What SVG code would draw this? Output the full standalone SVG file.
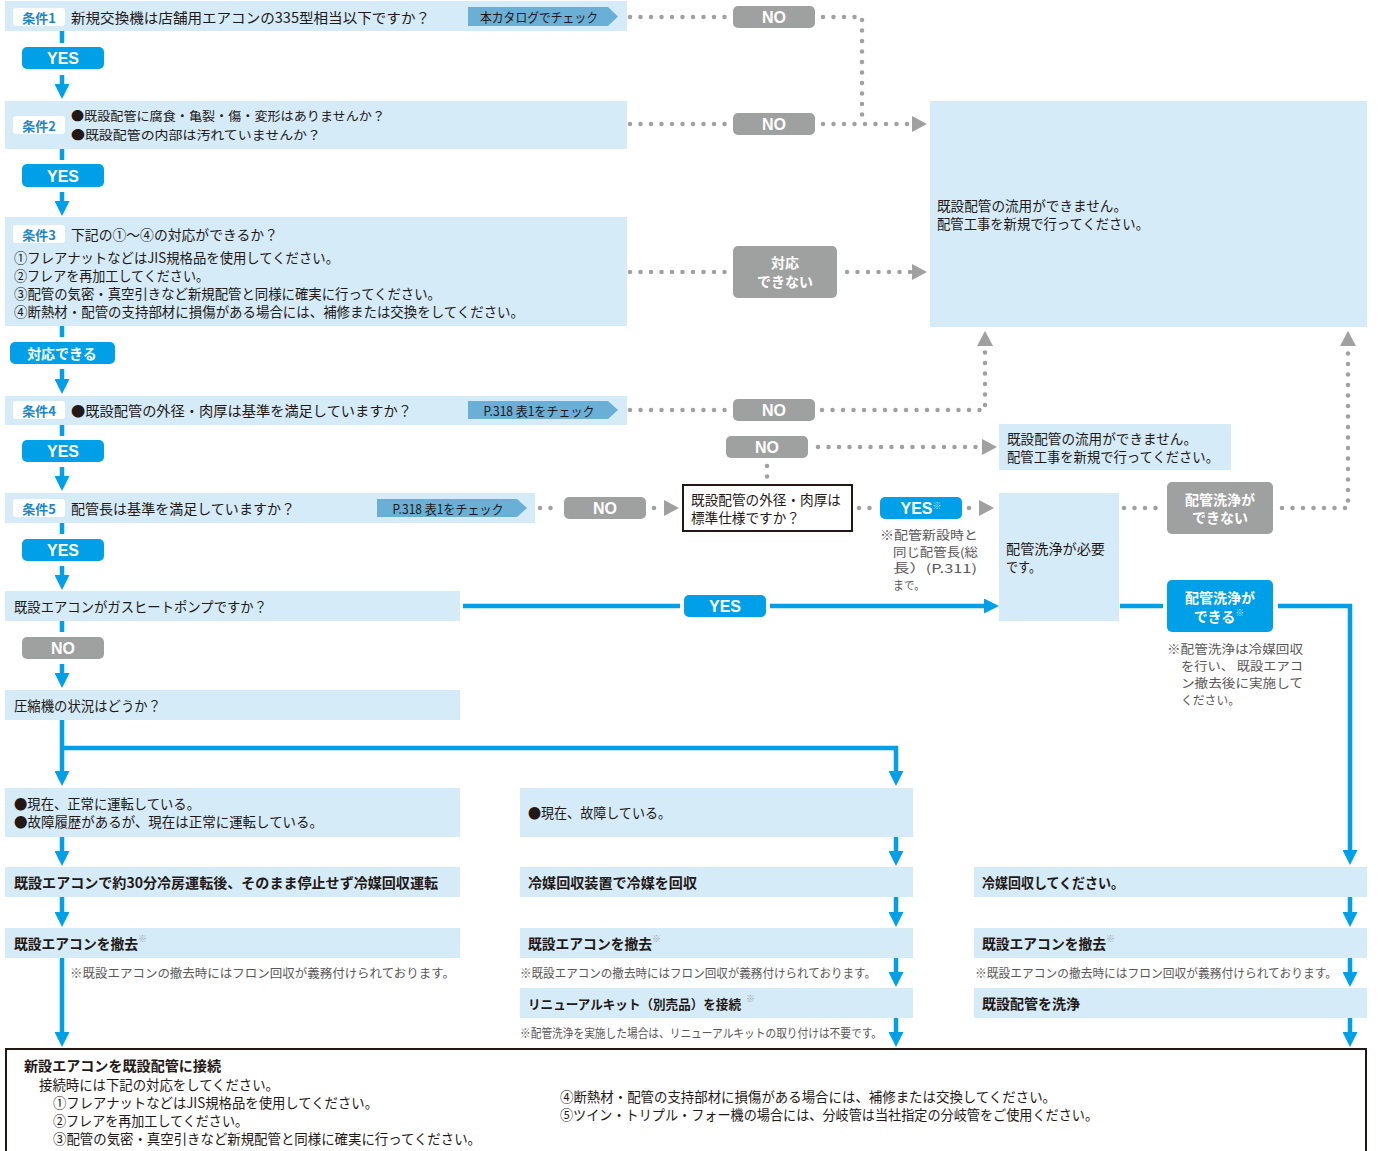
<svg xmlns="http://www.w3.org/2000/svg" width="1381" height="1151" viewBox="0 0 1381 1151">
<style>
.bg{fill:#fff}
.box{fill:#d5ebf8}
.t{font-family:"Noto Sans CJK JP","Noto Sans",sans-serif;font-size:14px;fill:#231815;dominant-baseline:central}
.s{font-size:12.5px}
.k{font-size:12.8px}
.b{font-weight:bold}
.n{font-family:"Noto Sans CJK JP",sans-serif;font-size:12px;fill:#595757;dominant-baseline:central}
.sup{font-family:"Noto Sans CJK JP",sans-serif;font-size:9px;font-weight:normal;fill:#9fa0a0}
.supw{font-family:"Noto Sans CJK JP",sans-serif;font-size:9px;font-weight:normal;fill:#bfe6fa}
.yes{fill:#00a0e9}
.no{fill:#9fa0a0}
.lbl{font-family:"Liberation Sans",Arial,sans-serif;font-weight:bold;font-size:16px;fill:#fff;text-anchor:middle;dominant-baseline:central}
.jl{font-family:"Noto Sans CJK JP",sans-serif;font-weight:bold;font-size:14px;fill:#fff;text-anchor:middle;dominant-baseline:central}
.tag{fill:#fff}
.tagt{font-family:"Noto Sans CJK JP",sans-serif;font-weight:bold;font-size:13px;fill:#1d86c8;text-anchor:middle;dominant-baseline:central}
.chk{fill:#6aafd6}
.chkt{font-family:"Noto Sans CJK JP",sans-serif;font-size:13px;fill:#231815;text-anchor:middle;dominant-baseline:central}
.dot{fill:none;stroke:#a0a0a0;stroke-width:4.5;stroke-linecap:round;stroke-dasharray:0 10.5}
.bl{fill:none;stroke:#00a0e9;stroke-width:4.5}
</style>
<defs>
<marker id="ab" markerUnits="userSpaceOnUse" viewBox="0 0 15 15" markerWidth="15" markerHeight="15" refX="0" refY="7.5" orient="auto"><path d="M0,0 L15,7.5 L0,15 Z" fill="#00a0e9"/></marker>
<marker id="ag" markerUnits="userSpaceOnUse" viewBox="0 0 15 16" markerWidth="15" markerHeight="16" refX="0" refY="8" orient="auto"><path d="M0,0 L15,8 L0,16 Z" fill="#a0a0a0"/></marker>
</defs>
<rect class="bg" x="0" y="0" width="1381" height="1151"/>

<g id="connectors">
<path class="bl" d="M62,31 V43"/>
<path class="bl" d="M62,75 V84" marker-end="url(#ab)"/>
<path class="bl" d="M62,149 V160"/>
<path class="bl" d="M62,192 V201" marker-end="url(#ab)"/>
<path class="bl" d="M62,326 V337"/>
<path class="bl" d="M62,369 V379" marker-end="url(#ab)"/>
<path class="bl" d="M62,425 V436"/>
<path class="bl" d="M62,467 V476" marker-end="url(#ab)"/>
<path class="bl" d="M62,523 V534"/>
<path class="bl" d="M62,566 V575" marker-end="url(#ab)"/>
<path class="bl" d="M62,621 V632"/>
<path class="bl" d="M62,664 V673" marker-end="url(#ab)"/>
<path class="bl" d="M62,720 V771" marker-end="url(#ab)"/>
<path class="bl" d="M62,748 H896 V771" marker-end="url(#ab)"/>
<path class="bl" d="M62,837 V851" marker-end="url(#ab)"/>
<path class="bl" d="M62,897 V912" marker-end="url(#ab)"/>
<path class="bl" d="M62,958 V1032" marker-end="url(#ab)"/>
<path class="bl" d="M896,837 V851" marker-end="url(#ab)"/>
<path class="bl" d="M896,897 V912" marker-end="url(#ab)"/>
<path class="bl" d="M896,958 V972" marker-end="url(#ab)"/>
<path class="bl" d="M896,1018 V1032" marker-end="url(#ab)"/>
<path class="bl" d="M1350,897 V912" marker-end="url(#ab)"/>
<path class="bl" d="M1350,958 V972" marker-end="url(#ab)"/>
<path class="bl" d="M1350,1018 V1032" marker-end="url(#ab)"/>
<path class="bl" d="M463,606 H680"/>
<path class="bl" d="M770,606 H984" marker-end="url(#ab)"/>
<path class="bl" d="M1120,606 H1163"/>
<path class="bl" d="M1278,606 H1350 V850" marker-end="url(#ab)"/>
<path class="dot" d="M630,17 H726"/>
<path class="dot" d="M823,17 H862 V118"/>
<path class="dot" d="M630,124 H726"/>
<path class="dot" d="M823,124 H912" marker-end="url(#ag)"/>
<path class="dot" d="M630,272 H726"/>
<path class="dot" d="M847,272 H912" marker-end="url(#ag)"/>
<path class="dot" d="M630,410 H726"/>
<path class="dot" d="M822,410 H985 V346" marker-end="url(#ag)"/>
<path class="dot" d="M818,447 H982" marker-end="url(#ag)"/>
<path class="dot" d="M767,466 V478"/>
<path class="dot" d="M540,508 H557"/>
<path class="dot" d="M654,508 H664" marker-end="url(#ag)"/>
<path class="dot" d="M859,508 H871"/>
<path class="dot" d="M969,508 H979" marker-end="url(#ag)"/>
<path class="dot" d="M1124,508 H1160"/>
<path class="dot" d="M1282,508 H1348 V346" marker-end="url(#ag)"/>
</g>

<g id="cond1">
<rect class="box" x="5" y="1" width="622" height="30"/>
<rect class="tag" x="13" y="8" width="52" height="18" rx="3"/>
<text class="tagt" x="39" y="17">条件1</text>
<text class="t" x="71" y="16.5" textLength="359" lengthAdjust="spacingAndGlyphs">新規交換機は店舗用エアコンの335型相当以下ですか？</text>
<polygon class="chk" points="468,7 608,7 618,16.5 608,26 468,26"/>
<text class="chkt" x="539" y="16.5" textLength="118" lengthAdjust="spacingAndGlyphs">本カタログでチェック</text>
</g>
<g id="no1"><rect class="no" x="733" y="6" width="82" height="22" rx="5"/><text class="lbl" x="774" y="17.5">NO</text></g>
<g id="yes1"><rect class="yes" x="22" y="47" width="82" height="22" rx="5"/><text class="lbl" x="63" y="58.5">YES</text></g>

<g id="cond2">
<rect class="box" x="5" y="101" width="622" height="48"/>
<rect class="tag" x="13" y="116" width="52" height="18" rx="3"/>
<text class="tagt" x="39" y="125">条件2</text>
<text class="t s" x="71" y="115.5" textLength="314" lengthAdjust="spacingAndGlyphs">●既設配管に腐食・亀裂・傷・変形はありませんか？</text>
<text class="t s" x="71" y="134" textLength="250" lengthAdjust="spacingAndGlyphs">●既設配管の内部は汚れていませんか？</text>
</g>
<g id="no2"><rect class="no" x="733" y="113" width="82" height="22" rx="5"/><text class="lbl" x="774" y="124.5">NO</text></g>
<g id="yes2"><rect class="yes" x="22" y="164" width="82" height="23" rx="5"/><text class="lbl" x="63" y="176">YES</text></g>

<g id="result-new">
<rect class="box" x="930" y="101" width="437" height="226"/>
<text class="t" x="937" y="205" textLength="190" lengthAdjust="spacingAndGlyphs">既設配管の流用ができません。</text>
<text class="t" x="937" y="223" textLength="212" lengthAdjust="spacingAndGlyphs">配管工事を新規で行ってください。</text>
</g>

<g id="cond3">
<rect class="box" x="5" y="217" width="622" height="109"/>
<rect class="tag" x="13" y="225" width="52" height="18" rx="3"/>
<text class="tagt" x="39" y="234">条件3</text>
<text class="t" x="71" y="234" textLength="207" lengthAdjust="spacingAndGlyphs">下記の①〜④の対応ができるか？</text>
<text class="t" x="14" y="257" textLength="325" lengthAdjust="spacingAndGlyphs">①フレアナットなどはJIS規格品を使用してください。</text>
<text class="t" x="14" y="275" textLength="195" lengthAdjust="spacingAndGlyphs">②フレアを再加工してください。</text>
<text class="t" x="14" y="293" textLength="427" lengthAdjust="spacingAndGlyphs">③配管の気密・真空引きなど新規配管と同様に確実に行ってください。</text>
<text class="t" x="14" y="311" textLength="510" lengthAdjust="spacingAndGlyphs">④断熱材・配管の支持部材に損傷がある場合には、補修または交換をしてください。</text>
</g>
<g id="cannot3"><rect class="no" x="733" y="246" width="104" height="52" rx="5"/><text class="jl" x="785" y="262">対応</text><text class="jl" x="785" y="281">できない</text></g>
<g id="can3"><rect class="yes" x="10" y="342" width="105" height="22" rx="5"/><text class="jl" x="62" y="353">対応できる</text></g>

<g id="cond4">
<rect class="box" x="5" y="396" width="622" height="29"/>
<rect class="tag" x="13" y="401" width="52" height="18" rx="3"/>
<text class="tagt" x="39" y="410">条件4</text>
<text class="t" x="71" y="410" textLength="341" lengthAdjust="spacingAndGlyphs">●既設配管の外径・肉厚は基準を満足していますか？</text>
<polygon class="chk" points="468,401 608,401 618,410 608,419 468,419"/>
<text class="chkt" x="539" y="410" textLength="111" lengthAdjust="spacingAndGlyphs">P.318 表1をチェック</text>
</g>
<g id="no4"><rect class="no" x="733" y="399" width="82" height="22" rx="5"/><text class="lbl" x="774" y="410.5">NO</text></g>
<g id="yes4"><rect class="yes" x="22" y="440" width="82" height="22" rx="5"/><text class="lbl" x="63" y="451.5">YES</text></g>

<g id="no-std"><rect class="no" x="726" y="436" width="82" height="22" rx="5"/><text class="lbl" x="767" y="447.5">NO</text></g>
<g id="result-new2">
<rect class="box" x="999" y="424" width="232" height="46"/>
<text class="t" x="1007" y="438" textLength="190" lengthAdjust="spacingAndGlyphs">既設配管の流用ができません。</text>
<text class="t" x="1007" y="456" textLength="212" lengthAdjust="spacingAndGlyphs">配管工事を新規で行ってください。</text>
</g>

<g id="cond5">
<rect class="box" x="5" y="493" width="530" height="30"/>
<rect class="tag" x="13" y="499" width="52" height="18" rx="3"/>
<text class="tagt" x="39" y="508">条件5</text>
<text class="t" x="71" y="508" textLength="224" lengthAdjust="spacingAndGlyphs">配管長は基準を満足していますか？</text>
<polygon class="chk" points="377,499 517,499 527,508 517,517 377,517"/>
<text class="chkt" x="448" y="508" textLength="111" lengthAdjust="spacingAndGlyphs">P.318 表1をチェック</text>
</g>
<g id="no5"><rect class="no" x="564" y="497" width="82" height="22" rx="5"/><text class="lbl" x="605" y="508.5">NO</text></g>
<g id="std-check">
<rect x="683" y="485" width="169" height="46" fill="#fff" stroke="#231815" stroke-width="2"/>
<text class="t" x="691" y="499" textLength="150" lengthAdjust="spacingAndGlyphs">既設配管の外径・肉厚は</text>
<text class="t" x="691" y="517" textLength="109" lengthAdjust="spacingAndGlyphs">標準仕様ですか？</text>
</g>
<g id="yes-std">
<rect class="yes" x="880" y="497" width="82" height="22" rx="5"/>
<text class="lbl" x="921" y="508.5">YES<tspan class="supw" dy="-4">※</tspan></text>
<text class="n" x="880" y="534" textLength="98" lengthAdjust="spacingAndGlyphs">※配管新設時と</text>
<text class="n" x="893" y="551" textLength="85" lengthAdjust="spacingAndGlyphs">同じ配管長(総</text>
<text class="n" x="893" y="567" textLength="84" lengthAdjust="spacingAndGlyphs">長）(P.311)</text>
<text class="n" x="893" y="584" textLength="32" lengthAdjust="spacingAndGlyphs">まで。</text>
</g>
<g id="wash">
<rect class="box" x="999" y="493" width="120" height="128"/>
<text class="t" x="1006" y="548" textLength="99" lengthAdjust="spacingAndGlyphs">配管洗浄が必要</text>
<text class="t" x="1006" y="566" textLength="35" lengthAdjust="spacingAndGlyphs">です。</text>
</g>
<g id="wash-no"><rect class="no" x="1167" y="482" width="106" height="52" rx="5"/><text class="jl" x="1220" y="499">配管洗浄が</text><text class="jl" x="1220" y="517">できない</text></g>
<g id="wash-yes">
<rect class="yes" x="1167" y="580" width="106" height="52" rx="5"/>
<text class="jl" x="1220" y="597">配管洗浄が</text>
<text class="jl" x="1219" y="616">できる<tspan class="supw" dy="-4">※</tspan></text>
<text class="n" x="1167" y="648" textLength="136" lengthAdjust="spacingAndGlyphs">※配管洗浄は冷媒回収</text>
<text class="n" x="1181" y="665" textLength="122" lengthAdjust="spacingAndGlyphs">を行い、 既設エアコ</text>
<text class="n" x="1181" y="682" textLength="122" lengthAdjust="spacingAndGlyphs">ン撤去後に実施して</text>
<text class="n" x="1181" y="699" textLength="59" lengthAdjust="spacingAndGlyphs">ください。</text>
</g>
<g id="yes5"><rect class="yes" x="22" y="539" width="82" height="22" rx="5"/><text class="lbl" x="63" y="550.5">YES</text></g>

<g id="ghp">
<rect class="box" x="5" y="591" width="455" height="30"/>
<text class="t" x="14" y="606" textLength="253" lengthAdjust="spacingAndGlyphs">既設エアコンがガスヒートポンプですか？</text>
</g>
<g id="yes-ghp"><rect class="yes" x="684" y="595" width="82" height="22" rx="5"/><text class="lbl" x="725" y="606.5">YES</text></g>
<g id="no-ghp"><rect class="no" x="22" y="637" width="82" height="22" rx="5"/><text class="lbl" x="63" y="648.5">NO</text></g>

<g id="compressor">
<rect class="box" x="5" y="690" width="455" height="30"/>
<text class="t" x="14" y="705" textLength="147" lengthAdjust="spacingAndGlyphs">圧縮機の状況はどうか？</text>
</g>

<g id="normal">
<rect class="box" x="5" y="788" width="455" height="49"/>
<text class="t" x="14" y="803" textLength="186" lengthAdjust="spacingAndGlyphs">●現在、正常に運転している。</text>
<text class="t" x="14" y="821" textLength="309" lengthAdjust="spacingAndGlyphs">●故障履歴があるが、現在は正常に運転している。</text>
</g>
<g id="broken">
<rect class="box" x="520" y="788" width="393" height="49"/>
<text class="t" x="528" y="812" textLength="143" lengthAdjust="spacingAndGlyphs">●現在、故障している。</text>
</g>

<g id="l-recover">
<rect class="box" x="5" y="867" width="455" height="30"/>
<text class="t b" x="14" y="882" textLength="424" lengthAdjust="spacingAndGlyphs">既設エアコンで約30分冷房運転後、そのまま停止せず冷媒回収運転</text>
</g>
<g id="m-recover">
<rect class="box" x="520" y="867" width="393" height="30"/>
<text class="t b" x="528" y="882" textLength="169" lengthAdjust="spacingAndGlyphs">冷媒回収装置で冷媒を回収</text>
</g>
<g id="r-recover">
<rect class="box" x="974" y="867" width="393" height="30"/>
<text class="t b" x="982" y="882" textLength="142" lengthAdjust="spacingAndGlyphs">冷媒回収してください。</text>
</g>

<g id="l-remove">
<rect class="box" x="5" y="928" width="455" height="30"/>
<text class="t b" x="14" y="943"><tspan textLength="124" lengthAdjust="spacingAndGlyphs">既設エアコンを撤去</tspan><tspan class="sup" dy="-5">※</tspan></text>
<text class="n" x="70" y="972" textLength="385" lengthAdjust="spacingAndGlyphs">※既設エアコンの撤去時にはフロン回収が義務付けられております。</text>
</g>
<g id="m-remove">
<rect class="box" x="520" y="928" width="393" height="30"/>
<text class="t b" x="528" y="943"><tspan textLength="124" lengthAdjust="spacingAndGlyphs">既設エアコンを撤去</tspan><tspan class="sup" dy="-5">※</tspan></text>
<text class="n" x="520" y="972" textLength="356" lengthAdjust="spacingAndGlyphs">※既設エアコンの撤去時にはフロン回収が義務付けられております。</text>
</g>
<g id="r-remove">
<rect class="box" x="974" y="928" width="393" height="30"/>
<text class="t b" x="982" y="943"><tspan textLength="124" lengthAdjust="spacingAndGlyphs">既設エアコンを撤去</tspan><tspan class="sup" dy="-5">※</tspan></text>
<text class="n" x="975" y="972" textLength="362" lengthAdjust="spacingAndGlyphs">※既設エアコンの撤去時にはフロン回収が義務付けられております。</text>
</g>

<g id="m-kit">
<rect class="box" x="520" y="988" width="393" height="30"/>
<text class="t b k" x="528" y="1003"><tspan textLength="213" lengthAdjust="spacingAndGlyphs">リニューアルキット（別売品）を接続</tspan><tspan class="sup" dx="5" dy="-5">※</tspan></text>
<text class="n" x="520" y="1032" textLength="362" lengthAdjust="spacingAndGlyphs">※配管洗浄を実施した場合は、リニューアルキットの取り付けは不要です。</text>
</g>
<g id="r-wash">
<rect class="box" x="974" y="988" width="393" height="30"/>
<text class="t b" x="982" y="1003" textLength="98" lengthAdjust="spacingAndGlyphs">既設配管を洗浄</text>
</g>

<g id="connect">
<rect x="6" y="1049" width="1360" height="120" fill="#fff" stroke="#231815" stroke-width="2"/>
<text class="t b" x="24" y="1065" textLength="197" lengthAdjust="spacingAndGlyphs">新設エアコンを既設配管に接続</text>
<text class="t" x="39" y="1083.5" textLength="240" lengthAdjust="spacingAndGlyphs">接続時には下記の対応をしてください。</text>
<text class="t" x="53" y="1101.5" textLength="325" lengthAdjust="spacingAndGlyphs">①フレアナットなどはJIS規格品を使用してください。</text>
<text class="t" x="53" y="1119.5" textLength="195" lengthAdjust="spacingAndGlyphs">②フレアを再加工してください。</text>
<text class="t" x="53" y="1137.5" textLength="428" lengthAdjust="spacingAndGlyphs">③配管の気密・真空引きなど新規配管と同様に確実に行ってください。</text>
<text class="t" x="560" y="1096" textLength="496" lengthAdjust="spacingAndGlyphs">④断熱材・配管の支持部材に損傷がある場合には、補修または交換してください。</text>
<text class="t" x="560" y="1114" textLength="538" lengthAdjust="spacingAndGlyphs">⑤ツイン・トリプル・フォー機の場合には、分岐管は当社指定の分岐管をご使用ください。</text>
</g>
</svg>
